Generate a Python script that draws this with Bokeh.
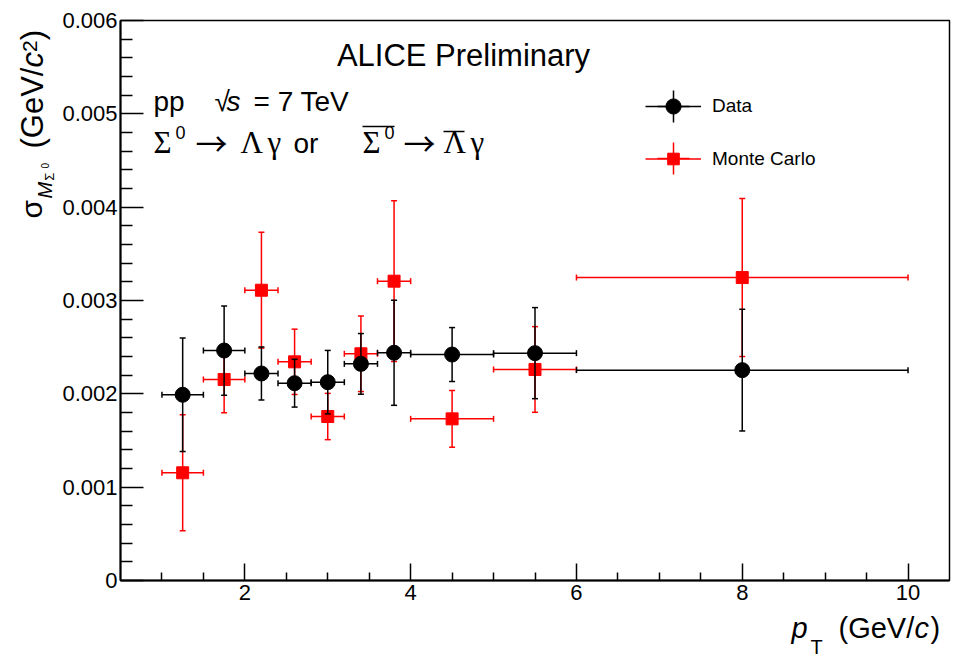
import math
import numpy as np
from bokeh.plotting import figure
from bokeh.layouts import column, row
from bokeh.models import (ColumnDataSource, Whisker, TeeHead, Range1d, FixedTicker,
                          Legend, LegendItem, Label, Arrow)
from bokeh.embed import file_html
from bokeh.resources import INLINE

# ---------------- data ----------------
pt = [1.25, 1.75, 2.2, 2.6, 3.0, 3.4, 3.8, 4.5, 5.5, 8.0]
pt_err = [0.25, 0.25, 0.2, 0.2, 0.2, 0.2, 0.2, 0.5, 0.5, 2.0]

data_sigma = [0.00199, 0.002464, 0.002218, 0.002114, 0.002125,
              0.002321, 0.00244, 0.002421, 0.002436, 0.002254]
data_err = [0.000607, 0.000478, 0.000284, 0.000256, 0.00034,
            0.000325, 0.000563, 0.000289, 0.000488, 0.000652]

mc_sigma = [0.001154, 0.002154, 0.00311, 0.002343, 0.001757,
            0.002429, 0.003207, 0.001732, 0.002261, 0.003246]
mc_err = [0.000621, 0.000357, 0.00062, 0.00035, 0.000248,
          0.000405, 0.000861, 0.000304, 0.000459, 0.000846]

y_ticks = [0, 0.001, 0.002, 0.003, 0.004, 0.005, 0.006]
y_tick_labels = ["0", "0.001", "0.002", "0.003", "0.004", "0.005", "0.006"]
y_minor = [0.0002, 0.0004, 0.0006, 0.0008, 0.0012, 0.0014, 0.0016, 0.0018,
           0.0022, 0.0024, 0.0026, 0.0028, 0.0032, 0.0034, 0.0036, 0.0038,
           0.0042, 0.0044, 0.0046, 0.0048, 0.0052, 0.0054, 0.0056, 0.0058]
x_ticks = [2, 4, 6, 8, 10]
x_minor = [1, 1.5, 2.5, 3, 3.5, 4.5, 5, 5.5, 6.5, 7, 7.5, 8.5, 9, 9.5]

legend_labels = ["Data", "Monte Carlo"]

# ---------------- layout geometry (page px) ----------------
W, H = 954, 659
YT_W = 57                  # strip holding the y-axis title
FL, FT, FB = 120, 20, 580  # main frame left / top / bottom
MAIN_H = 610               # main figure height
XT_H = H - MAIN_H          # strip holding the x-axis title

p = figure(width=W - YT_W, height=MAIN_H, output_backend="svg", toolbar_location=None,
           x_range=Range1d(0.5, 10.5), y_range=Range1d(0, 0.006),
           min_border_left=FL - YT_W, min_border_right=5, min_border_top=FT,
           min_border_bottom=MAIN_H - FB)
p.xgrid.visible = False
p.ygrid.visible = False
p.outline_line_color = "black"
p.outline_line_width = 1.5
p.background_fill_color = "white"
p.border_fill_color = "white"

for ax in (p.xaxis, p.yaxis):
    ax.axis_label = None
    ax.axis_line_width = 2
    ax.axis_line_color = "black"
    ax.major_tick_line_color = "black"
    ax.minor_tick_line_color = "black"
    ax.major_tick_line_width = 1.5
    ax.minor_tick_line_width = 1.5
    ax.major_tick_out = 0
    ax.minor_tick_out = 0
    ax.major_label_text_font = "Liberation Sans"
    ax.major_label_text_font_size = "22px"
    ax.major_label_text_color = "black"

p.xaxis.ticker = FixedTicker(ticks=x_ticks, minor_ticks=x_minor)
p.xaxis.major_tick_in = 17
p.xaxis.minor_tick_in = 8
p.xaxis.major_label_standoff = 4

p.yaxis.ticker = FixedTicker(ticks=y_ticks, minor_ticks=y_minor)
p.yaxis.major_tick_in = 23
p.yaxis.minor_tick_in = 12
p.yaxis.major_label_standoff = 3
p.yaxis.major_label_overrides = dict(zip(y_ticks, y_tick_labels))

# ---------------- sources ----------------
x = np.array(pt); xe = np.array(pt_err)
yd = np.array(data_sigma); yde = np.array(data_err)
ym = np.array(mc_sigma); yme = np.array(mc_err)

src_d = ColumnDataSource(dict(x=x, y=yd, xlo=x - xe, xhi=x + xe, ylo=yd - yde, yhi=yd + yde))
src_m = ColumnDataSource(dict(x=x, y=ym, xlo=x - xe, xhi=x + xe, ylo=ym - yme, yhi=ym + yme))

RED = "#ff0000"
BLK = "#000000"
LW = 1.5


def add_errors(src, color, level):
    for dim, base, lo, hi in (("height", "x", "ylo", "yhi"), ("width", "y", "xlo", "xhi")):
        w = Whisker(source=src, base=base, lower=lo, upper=hi, dimension=dim,
                    line_color=color, line_width=LW, level=level,
                    lower_head=TeeHead(size=6, line_color=color, line_width=LW),
                    upper_head=TeeHead(size=6, line_color=color, line_width=LW))
        p.add_layout(w)


# MC first (below), then Data on top
add_errors(src_m, RED, "underlay")
r_mc = p.scatter("x", "y", source=src_m, marker="square", size=12,
                 fill_color=RED, line_color=RED, level="glyph")
add_errors(src_d, BLK, "annotation")
r_data = p.scatter("x", "y", source=src_d, marker="circle", size=15,
                   fill_color=BLK, line_color=BLK, level="overlay")

# legend proxies (no visible data)
nan = [float("nan")]
seg_d = p.segment(x0=nan, y0=nan, x1=nan, y1=nan, line_color=BLK, line_width=LW)
seg_m = p.segment(x0=nan, y0=nan, x1=nan, y1=nan, line_color=RED, line_width=LW)
crs_d = p.scatter(x=nan, y=nan, marker="cross", size=32, line_color=BLK, line_width=LW)
crs_m = p.scatter(x=nan, y=nan, marker="cross", size=32, line_color=RED, line_width=LW)


def make_legend(items, cx_left, cy_center, gw, gh, standoff=11):
    loc = (int(cx_left - FL), int(FB - (cy_center + gh / 2)))
    lg = Legend(items=items, location=loc, glyph_width=gw, glyph_height=gh,
                label_standoff=standoff, padding=0, margin=0, spacing=0,
                border_line_color=None, background_fill_alpha=0,
                label_text_font="Liberation Sans", label_text_font_size="19px",
                label_text_color="black")
    p.add_layout(lg)


make_legend([LegendItem(label=legend_labels[0], renderers=[seg_d, r_data])], 645, 106, 56, 38)
make_legend([LegendItem(label=legend_labels[1], renderers=[seg_m, r_mc])], 645, 158, 56, 29)
make_legend([LegendItem(label="", renderers=[crs_d])], 633, 106, 80, 80, 0)
make_legend([LegendItem(label="", renderers=[crs_m])], 633, 158, 80, 80, 0)


# ---------------- side strips for the axis titles ----------------
def strip(width, height):
    f = figure(width=width, height=height, output_backend="svg", toolbar_location=None,
               x_axis_type=None, y_axis_type=None, x_range=Range1d(0, 1),
               y_range=Range1d(0, 1), min_border=0, min_border_left=0,
               min_border_right=0, min_border_top=0, min_border_bottom=0)
    f.outline_line_color = None
    f.xgrid.visible = False
    f.ygrid.visible = False
    f.background_fill_color = "white"
    f.border_fill_color = "white"
    return f


yfig = strip(YT_W, MAIN_H)   # its frame gets aligned with the main frame (page y 20..580)
xfig = strip(W, XT_H)

K = 0.33  # empirical baseline correction
A = math.pi / 2


def lab(fig, ox, oy_bottom, text, cx, cy, size, font="Liberation Sans", style="normal",
        align="left"):
    """cx, cy: wanted baseline start point in page pixels."""
    fig.add_layout(Label(x=cx - ox, y=oy_bottom - (cy - K * size), x_units="screen",
                         y_units="screen", text=text, text_font=font,
                         text_font_size=f"{size}px", text_font_style=style,
                         text_align=align, text_baseline="alphabetic",
                         text_color="black"))


def rlab(text, base_x, y_start, length, size, style="normal"):
    """Rotated (reading upward) piece of the y title; centred on its own extent."""
    yfig.add_layout(Label(x=base_x - K * size, y=FB - (y_start - length / 2),
                          x_units="screen", y_units="screen", text=text,
                          text_font="Liberation Sans", text_font_size=f"{size}px",
                          text_font_style=style, text_align="center",
                          text_baseline="middle", angle=A, text_color="black"))


def mlab(*a, **k):
    lab(p, FL, FB, *a, **k)


def xlab(*a, **k):
    lab(xfig, 0, H, *a, **k)


def bar(cx0, cx1, cy):
    p.add_layout(Arrow(start=None, end=None, x_start=cx0 - FL, y_start=FB - cy,
                       x_end=cx1 - FL, y_end=FB - cy, start_units="screen",
                       end_units="screen", line_color="black", line_width=1.5))


SERIF = "Liberation Serif"
ARW = "Noto Sans CJK JP"

mlab("ALICE Preliminary", 463, 65, 31, align="center")

# pp  sqrt(s) = 7 TeV
mlab("pp", 153, 110, 28)
mlab("\u221a", 214, 110, 28)
mlab("s", 226, 110, 28, style="italic")
mlab("= 7 TeV", 253, 110, 28)

# Sigma0 -> Lambda gamma  or  anti-Sigma0 -> anti-Lambda gamma
mlab("\u03a3", 153, 152, 31, font=SERIF)
mlab("0", 175, 138, 18)
mlab("\u2192", 195, 152, 32, font=ARW)
mlab("\u039b", 240, 152, 31, font=SERIF)
mlab("\u03b3", 267, 152, 31, font=SERIF)
mlab("or", 293, 152, 28)
mlab("\u03a3", 362, 152, 31, font=SERIF)
mlab("0", 384, 138, 18)
bar(362, 394, 126)
mlab("\u2192", 403, 152, 32, font=ARW)
mlab("\u039b", 443, 152, 31, font=SERIF)
bar(443, 464, 131)
mlab("\u03b3", 470, 152, 31, font=SERIF)

# x-axis title: p_T (GeV/c)
xlab("p", 791, 637, 29, style="italic")
xlab("T", 810, 653, 20)
xlab("(GeV/", 838, 637, 29)
xlab("c", 914, 637, 29, style="italic")
xlab(")", 930, 637, 29)

# y-axis title: sigma_{M_{Sigma0}} (GeV/c^2), reading upward
rlab("\u03c3", 41, 218, 18.5, 30)
rlab("M", 51, 198, 16.7, 20, style="italic")
rlab("\u03a3", 53, 180, 7.7, 13)
rlab("0", 48, 168, 5.6, 10)
rlab("(GeV/", 42, 148, 81, 31)
rlab("c", 42, 67, 15.5, 31, style="italic")
rlab("2", 36, 51.5, 11.7, 21)
rlab(")", 42, 39.8, 10.3, 31)

layout = column(row(yfig, p), xfig)
open("out.html", "w").write(file_html(layout, INLINE))
